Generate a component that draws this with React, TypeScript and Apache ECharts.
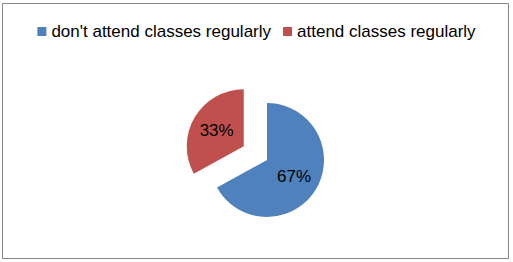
import React, { useEffect, useRef } from "react";
import * as echarts from "echarts";

const categories = ["don't attend classes regularly", "attend classes regularly"];
const values = [67, 33];
const colors = ["#4F81BD", "#C0504D"];

export default function App() {
  const ref = useRef<HTMLDivElement>(null);
  useEffect(() => {
    if (!ref.current) return;
    const chart = echarts.init(ref.current, null, { renderer: "svg" });
    chart.setOption({
      animation: false,
      backgroundColor: "#ffffff",
      graphic: [
        {
          type: "rect",
          shape: { x: 2.5, y: 3.5, width: 506, height: 255 },
          style: { fill: "none", stroke: "#868686", lineWidth: 1 },
          silent: true,
        },
      ],
      legend: {
        top: 18,
        left: "center",
        icon: "rect",
        itemWidth: 9,
        itemHeight: 9,
        itemGap: 12,
        selectedMode: false,
        textStyle: { fontFamily: "Liberation Sans", fontSize: 17, color: "#000" },
        data: categories,
      },
      series: [
        {
          type: "pie",
          center: [267, 160],
          radius: 57,
          startAngle: 90,
          clockwise: true,
          selectedMode: "multiple",
          selectedOffset: 27,
          label: {
            show: true,
            position: "inside",
            formatter: "{d}%",
            color: "#000",
            fontFamily: "Liberation Sans",
            fontSize: 17,
          },
          labelLine: { show: false },
          emphasis: { disabled: true },
          data: categories.map((name, i) => ({
            name,
            value: values[i],
            selected: i === 1,
            itemStyle: { color: colors[i] },
          })),
        },
      ],
    });
    return () => chart.dispose();
  }, []);
  return (
    <div
      ref={ref}
      style={{ position: "absolute", left: 0, top: 0, width: 513, height: 262 }}
    />
  );
}
